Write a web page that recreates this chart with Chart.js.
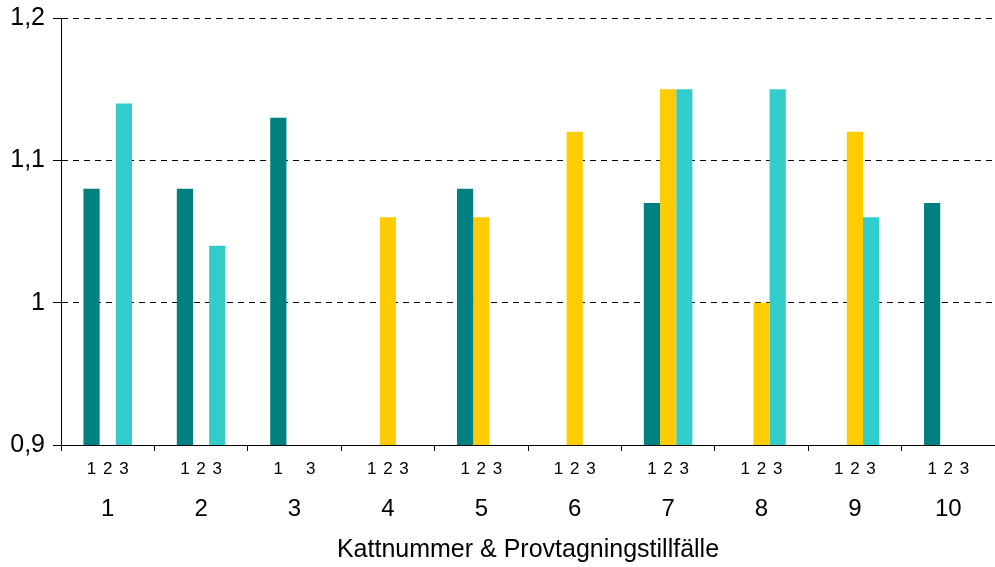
<!DOCTYPE html>
<html>
<head>
<meta charset="utf-8">
<script src="https://cdn.jsdelivr.net/npm/chart.js@4/dist/chart.umd.min.js"></script>
<style>
  html, body { margin: 0; padding: 0; background: #fff; }
  #wrap { width: 995px; height: 567px; position: relative; }
</style>
</head>
<body>
<div id="wrap"><canvas id="chart"></canvas></div>
<script>
  // cat numbers and the three sampling occasions
  const cats = ['1', '2', '3', '4', '5', '6', '7', '8', '9', '10'];
  const sample1 = [1.08, 1.08, 1.13, null, 1.08, null, 1.07, null, null, 1.07];
  const sample2 = [null, null, null, 1.06, 1.06, 1.12, 1.15, 1.00, 1.12, null];
  const sample3 = [1.14, 1.04, null, null, null, null, 1.15, 1.15, 1.06, null];
  const sampleLabels = [
    ['1', '2', '3'], ['1', '2', '3'], ['1', '', '3'], ['1', '2', '3'], ['1', '2', '3'],
    ['1', '2', '3'], ['1', '2', '3'], ['1', '2', '3'], ['1', '2', '3'], ['1', '2', '3']
  ];
  const yTicks = [0.9, 1.0, 1.1, 1.2];

  const FONT = '"Liberation Sans", Arial, Helvetica, sans-serif';

  const subLabelPlugin = {
    id: 'subLabels',
    afterDraw(chart) {
      const ctx = chart.ctx;
      const xScale = chart.scales.x;
      ctx.save();
      ctx.font = '17px ' + FONT;
      ctx.fillStyle = '#000';
      ctx.textAlign = 'center';
      ctx.textBaseline = 'middle';
      chart.data.datasets.forEach((ds, d) => {
        const meta = chart.getDatasetMeta(d);
        meta.data.forEach((bar, i) => {
          let x = bar.x;
          if (!Number.isFinite(x)) x = xScale.getPixelForValue(i) + (d - 1) * 16;
          ctx.fillText(sampleLabels[i][d], x, xScale.top + 24);
        });
      });
      ctx.restore();
    }
  };

  new Chart(document.getElementById('chart'), {
    type: 'bar',
    data: {
      labels: cats,
      datasets: [
        { label: '1', data: sample1, backgroundColor: '#008080' },
        { label: '2', data: sample2, backgroundColor: '#FFCC00' },
        { label: '3', data: sample3, backgroundColor: '#33CCCC' }
      ]
    },
    options: {
      responsive: true,
      maintainAspectRatio: false,
      animation: false,
      layout: { padding: { top: 18, right: 0, bottom: 0, left: 0 } },
      datasets: { bar: { barPercentage: 1, categoryPercentage: 0.52 } },
      plugins: { legend: { display: false }, tooltip: { enabled: false } },
      scales: {
        x: {
          grid: { drawOnChartArea: false, color: '#000', tickLength: 6 },
          border: { color: '#000', width: 1 },
          ticks: { color: '#000', font: { family: FONT, size: 24 }, padding: 44, maxRotation: 0 },
          title: {
            display: true,
            text: 'Kattnummer & Provtagningstillfälle',
            color: '#000',
            font: { family: FONT, size: 25 },
            padding: { top: 0, bottom: 2 }
          },
          afterFit(scale) {
            scale.height = 122;
            scale.paddingLeft = 0;
            scale.paddingRight = 0;
          }
        },
        y: {
          min: yTicks[0],
          max: yTicks[yTicks.length - 1],
          afterBuildTicks(scale) { scale.ticks = yTicks.map((v) => ({ value: v })); },
          grid: { color: '#000', lineWidth: 1, tickLength: 8, tickBorderDash: [] },
          border: { color: '#000', width: 1, dash: [6, 5] },
          ticks: {
            color: '#000',
            font: { family: FONT, size: 25 },
            padding: 8,
            callback: (v) => String(Math.round(v * 10) / 10).replace('.', ',')
          },
          afterFit(scale) {
            scale.width = 61;
            scale.paddingTop = 0;
            scale.paddingBottom = 0;
          }
        }
      }
    },
    plugins: [subLabelPlugin]
  });
</script>
</body>
</html>
